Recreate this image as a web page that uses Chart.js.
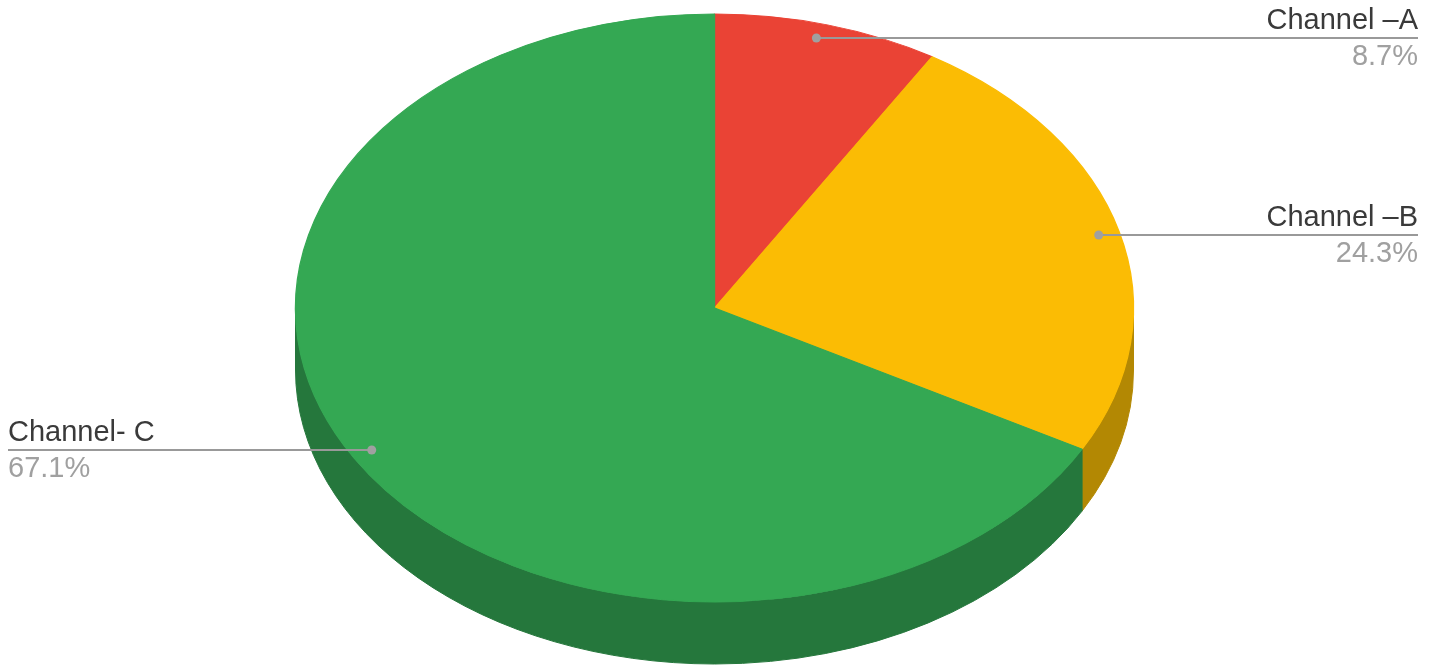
<!DOCTYPE html>
<html>
<head>
<meta charset="utf-8">
<script src="https://cdn.jsdelivr.net/npm/chart.js@4.4.0/dist/chart.umd.min.js"></script>
<style>
  html, body { margin: 0; padding: 0; background: #fff; }
  #wrap { width: 1429px; height: 672px; position: relative; }
</style>
</head>
<body>
<div id="wrap"><canvas id="pie"></canvas></div>
<script>
const labels = ['Channel –A', 'Channel –B', 'Channel- C'];
const shares = [8.7, 24.3, 67.1];
const percentText = ['8.7%', '24.3%', '67.1%'];

const topColors = ['#ea4335', '#fbbc04', '#34a853'];
const sideColors = ['#a32e25', '#b38803', '#25773c'];

// tilted look: top face ellipse radii and thickness of the side
const tilt = { rx: 419, ry: 294, depth: 62 };

// where the leader lines sit (y), which side the text goes
const callouts = [
    { y: 38, side: 'right' },
    { y: 235, side: 'right' },
    { y: 450, side: 'left' }
];

// front half of the ellipse, in canvas angles (y grows downward)
function frontParts(a0, a1){
    const parts = [];
    [[0, Math.PI], [2 * Math.PI, 3 * Math.PI], [-2 * Math.PI, -Math.PI]].forEach(([lo, hi]) => {
        const s = Math.max(a0, lo), e = Math.min(a1, hi);
        if(e > s) parts.push([s, e]);
    });
    return parts;
}

const pie3d = {
    id: 'pie3d',
    beforeDatasetsDraw(chart){
        const ctx = chart.ctx;
        const arcs = chart.getDatasetMeta(0).data;
        const cx = arcs[0].x, cy = arcs[0].y, r = arcs[0].outerRadius;
        const sx = tilt.rx / r, sy = tilt.ry / r;

        // side wall of each slice where it faces the viewer
        arcs.forEach((arc, i) => {
            frontParts(arc.startAngle, arc.endAngle).forEach(([s, e]) => {
                ctx.beginPath();
                ctx.ellipse(cx, cy, tilt.rx, tilt.ry, 0, s, e);
                ctx.ellipse(cx, cy + tilt.depth, tilt.rx, tilt.ry, 0, e, s, true);
                ctx.closePath();
                ctx.fillStyle = sideColors[i];
                ctx.fill();
                ctx.strokeStyle = sideColors[i];
                ctx.lineWidth = 1;
                ctx.stroke();
            });
        });

        // squash the library's own top face
        ctx.save();
        ctx.translate(cx, cy);
        ctx.scale(sx, sy);
        ctx.translate(-cx, -cy);
    },
    afterDatasetsDraw(chart){
        chart.ctx.restore();
    },
    afterDraw(chart){
        const ctx = chart.ctx;
        const arcs = chart.getDatasetMeta(0).data;
        const cx = arcs[0].x, cy = arcs[0].y;
        const f = 0.95;

        callouts.forEach((c, i) => {
            const k = (c.y - cy) / tilt.ry;
            const w = tilt.rx * Math.sqrt(Math.max(f * f - k * k, 0));
            const dotX = c.side === 'right' ? cx + w : cx - w;
            const endX = c.side === 'right' ? 1418 : 8;

            ctx.save();
            ctx.strokeStyle = '#999999';
            ctx.lineWidth = 2;
            ctx.beginPath();
            ctx.moveTo(dotX, c.y);
            ctx.lineTo(endX, c.y);
            ctx.stroke();

            ctx.fillStyle = '#a0a0a0';
            ctx.beginPath();
            ctx.arc(dotX, c.y, 4.5, 0, Math.PI * 2);
            ctx.fill();

            ctx.textAlign = c.side === 'right' ? 'right' : 'left';
            ctx.textBaseline = 'alphabetic';
            ctx.font = '29px "Liberation Sans", Arial, sans-serif';
            ctx.fillStyle = '#3a3a3a';
            ctx.fillText(labels[i], endX, c.y - 9);
            ctx.fillStyle = '#a0a0a0';
            ctx.fillText(percentText[i], endX, c.y + 27);
            ctx.restore();
        });
    }
};

new Chart(document.getElementById('pie'), {
    type: 'pie',
    data: {
        labels: labels,
        datasets: [{
            data: shares,
            backgroundColor: topColors,
            borderColor: topColors,
            borderWidth: 1,
            clip: false
        }]
    },
    options: {
        responsive: true,
        maintainAspectRatio: false,
        animation: false,
        layout: { padding: { top: 0, bottom: 56, left: 0, right: 0 } },
        plugins: {
            legend: { display: false },
            tooltip: { enabled: false }
        }
    },
    plugins: [pie3d]
});
</script>
</body>
</html>
